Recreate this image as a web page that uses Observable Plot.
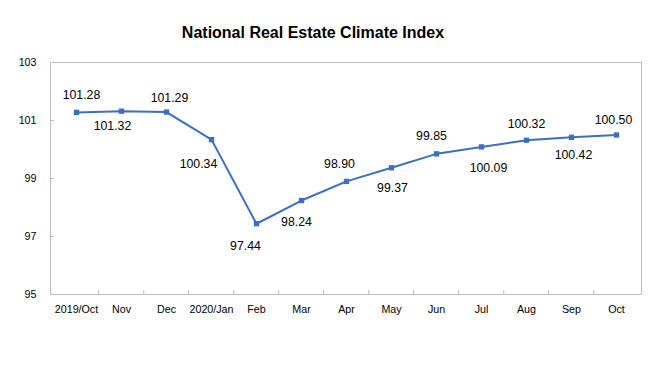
<!DOCTYPE html>
<html><head><meta charset="utf-8">
<script src="https://cdn.jsdelivr.net/npm/d3@7"></script>
<script src="https://cdn.jsdelivr.net/npm/@observablehq/plot@0.6"></script>
<style>
body{margin:0;background:#fff;font-family:"Liberation Sans",Arial,sans-serif;}
#wrap{position:relative;width:659px;height:386px;}
#wrap svg{position:absolute;left:0;top:0;}
#title{position:absolute;z-index:2;left:0;width:626px;top:23px;text-align:center;font-weight:bold;font-size:16px;line-height:19px;color:#000;}
</style></head>
<body><div id="wrap"><div id="title">National Real Estate Climate Index</div></div>
<script>
const months = ["2019/Oct","Nov","Dec","2020/Jan","Feb","Mar","Apr","May","Jun","Jul","Aug","Sep","Oct"];
const values = [101.28,101.32,101.29,100.34,97.44,98.24,98.90,99.37,99.85,100.09,100.32,100.42,100.50];
const yTicks = [95,97,99,101,103];
// label nudges (style only), in pixels [dx, dy]
const labelNudge = [[5,-17],[-9,15],[3,-14],[-13,24],[-11,22],[-5,22],[-7,-17],[1,20],[-5,-18],[7,21],[0,-16],[2,18],[-3,-15]];
const data = months.map((m,i)=>({month:m,value:values[i]}));
const color = "#3b6fc4";
const chart = Plot.plot({
  width:659, height:386,
  marginLeft:50, marginRight:18, marginTop:62, marginBottom:92,
  style:{fontFamily:"Liberation Sans, Arial, sans-serif", fontSize:"11px", color:"#000", background:"transparent"},
  x:{type:"point", domain:months, padding:0.5},
  y:{domain:[95,103]},
  marks:[
    Plot.frame({stroke:"#bfbfbf"}),
    Plot.ruleY(yTicks,{y:d=>d, stroke:"#bfbfbf", insetRight:587}),
    Plot.ruleX(months.slice(1),{x:d=>d, dx:-22.73, stroke:"#bfbfbf", insetTop:228}),
    Plot.axisX({tickSize:0, tickPadding:11, fontSize:10.7, label:null}),
    Plot.axisY({ticks:yTicks, tickSize:0, tickPadding:14, fontSize:10.7, label:null, tickFormat:d=>String(d)}),
    Plot.line(data,{x:"month", y:"value", stroke:color, strokeWidth:2}),
    Plot.dot(data,{x:"month", y:"value", symbol:"square", r:3, fill:color, stroke:null}),
    ...data.map((d,i)=>Plot.text([d],{x:"month", y:"value", text:d=>d.value.toFixed(2), dx:labelNudge[i][0], dy:labelNudge[i][1], fontSize:12.3, fill:"#000"}))
  ]
});
document.getElementById("wrap").appendChild(chart);
</script></body></html>
